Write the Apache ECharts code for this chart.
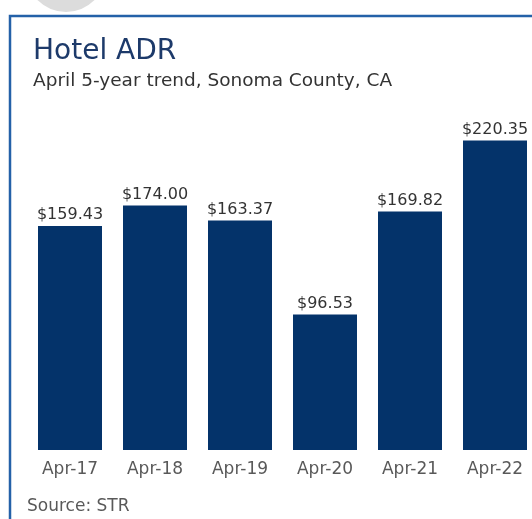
<!DOCTYPE html>
<html>
<head>
<meta charset="utf-8">
<script src="https://cdn.jsdelivr.net/npm/echarts@6/dist/echarts.min.js"></script>
<style>
  html, body { margin: 0; padding: 0; background: #fff; overflow: hidden; }
  #chart { width: 545px; height: 519px; }
</style>
</head>
<body>
<div id="chart"></div>
<script>
  var categories = ['Apr-17', 'Apr-18', 'Apr-19', 'Apr-20', 'Apr-21', 'Apr-22'];
  var adrValues = [159.43, 174.00, 163.37, 96.53, 169.82, 220.35];

  var chart = echarts.init(document.getElementById('chart'));
  var font = '"DejaVu Sans", Verdana, sans-serif';

  var option = {
    backgroundColor: '#ffffff',
    animation: false,
    grid: {
      left: 27.5,
      width: 510,
      top: 112.8,
      height: 337.2,
      containLabel: false
    },
    graphic: [
      {
        type: 'circle',
        shape: { cx: 66, cy: -28, r: 40 },
        style: { fill: '#dcdcdc' }
      },
      {
        type: 'rect',
        shape: { x: 10, y: 16, width: 640, height: 640 },
        style: { fill: 'none', stroke: '#2461a8', lineWidth: 2.5 }
      },
      {
        type: 'text',
        left: 33,
        top: 38,
        style: { text: 'Hotel ADR', fill: '#1d3a6a', font: '28px ' + font }
      },
      {
        type: 'text',
        left: 33,
        top: 72,
        style: { text: 'April 5-year trend, Sonoma County, CA', fill: '#333333', font: '18.5px ' + font }
      },
      {
        type: 'text',
        left: 27,
        top: 498,
        style: { text: 'Source: STR', fill: '#595959', font: '17px ' + font }
      }
    ],
    xAxis: {
      type: 'category',
      data: categories,
      axisLine: { show: false },
      axisTick: { show: false },
      axisLabel: { color: '#595959', fontSize: 17, fontFamily: font, margin: 11 }
    },
    yAxis: {
      type: 'value',
      min: 0,
      max: 240,
      show: false,
      splitLine: { show: false }
    },
    series: [
      {
        type: 'bar',
        data: adrValues,
        barWidth: 64,
        itemStyle: { color: '#04336a' },
        label: {
          show: true,
          position: 'top',
          distance: 3,
          color: '#333333',
          fontSize: 16,
          fontFamily: font,
          formatter: function (p) { return '$' + p.value.toFixed(2); }
        }
      }
    ]
  };

  chart.setOption(option);
</script>
</body>
</html>
